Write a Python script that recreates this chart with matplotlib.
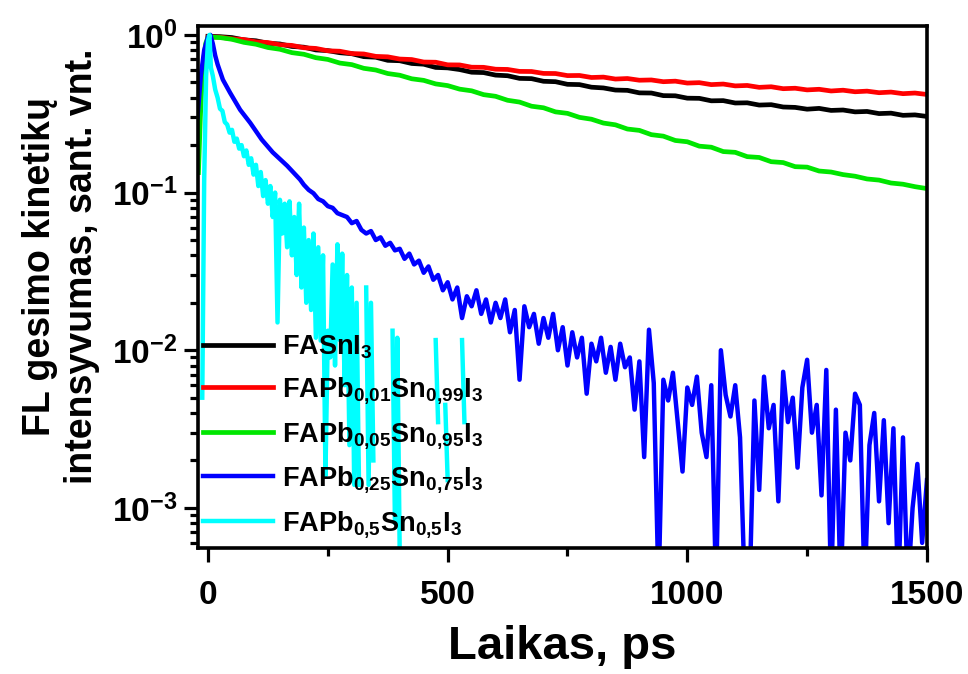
import numpy as np
import matplotlib.pyplot as plt

plt.rcParams['font.family'] = ['Liberation Sans', 'DejaVu Sans']
plt.rcParams['font.weight'] = 'bold'
plt.rcParams['mathtext.default'] = 'regular'

# --- data (time in ps, normalised PL intensity) ---
t_slow = np.arange(0, 1501, 25)

black = [0.98, 0.975, 0.962, 0.930, 0.918, 0.885, 0.876, 0.845, 0.836, 0.803,
         0.795, 0.771, 0.760, 0.728, 0.722, 0.690, 0.686, 0.659, 0.652, 0.622,
         0.618, 0.603, 0.580, 0.577, 0.556, 0.551, 0.530, 0.528, 0.508, 0.505,
         0.486, 0.484, 0.466, 0.461, 0.447, 0.445, 0.429, 0.428, 0.412, 0.411,
         0.397, 0.396, 0.382, 0.383, 0.370, 0.371, 0.359, 0.361, 0.349, 0.347,
         0.338, 0.342, 0.332, 0.334, 0.325, 0.327, 0.317, 0.319, 0.309, 0.311,
         0.304]

red = [0.97, 0.968, 0.945, 0.935, 0.904, 0.895, 0.866, 0.858, 0.829, 0.821,
       0.793, 0.788, 0.762, 0.757, 0.731, 0.726, 0.703, 0.698, 0.673, 0.671,
       0.646, 0.645, 0.624, 0.623, 0.606, 0.604, 0.587, 0.586, 0.570, 0.569,
       0.552, 0.553, 0.537, 0.540, 0.525, 0.529, 0.516, 0.518, 0.505, 0.509,
       0.495, 0.498, 0.484, 0.488, 0.475, 0.478, 0.465, 0.469, 0.456, 0.459,
       0.448, 0.452, 0.441, 0.446, 0.436, 0.440, 0.430, 0.434, 0.424, 0.428,
       0.419]

t_green = np.r_[[-20, -16, -11, -5], t_slow]
green = [0.134, 0.30, 0.62, 0.88,
         0.97, 0.962, 0.938, 0.897, 0.873, 0.832, 0.811, 0.772, 0.754, 0.717,
         0.699, 0.663, 0.648, 0.614, 0.599, 0.569, 0.555, 0.527, 0.515, 0.489,
         0.477, 0.453, 0.442, 0.418, 0.408, 0.385, 0.375, 0.353, 0.345, 0.325,
         0.318, 0.300, 0.292, 0.276, 0.269, 0.253, 0.248, 0.233, 0.228, 0.214,
         0.210, 0.197, 0.194, 0.182, 0.180, 0.169, 0.167, 0.157, 0.155, 0.146,
         0.145, 0.137, 0.135, 0.130, 0.127, 0.122, 0.120, 0.115, 0.113, 0.109,
         0.106]

t_blue = np.r_[[-22, -15, -8, 0, 5, 10, 15, 20, 31, 46, 67, 88, 112, 135, 165, 192],
               np.arange(200, 1501, 10)]
blue = [0.30, 0.55, 0.80, 0.97, 1.0, 0.88, 0.74, 0.65, 0.52, 0.43, 0.335, 0.277,
        0.217, 0.18, 0.148, 0.121,
        0.112, 0.104, 0.099, 0.091, 0.088, 0.082, 0.080, 0.074, 0.072, 0.070,
        0.064, 0.066, 0.058, 0.055, 0.057, 0.050, 0.052, 0.046, 0.048, 0.043,
        0.044, 0.038, 0.041, 0.035, 0.037, 0.031, 0.034, 0.028, 0.030, 0.024,
        0.027, 0.021, 0.025, 0.016, 0.022, 0.019, 0.024, 0.017, 0.021, 0.015,
        0.020, 0.016, 0.021, 0.013, 0.018, 0.0065, 0.019, 0.014, 0.017, 0.011,
        0.016, 0.012, 0.017, 0.010, 0.014, 0.008, 0.013, 0.009, 0.012, 0.0053,
        0.011, 0.0085, 0.012, 0.0072, 0.0105, 0.0065, 0.011, 0.0078, 0.009, 0.0042,
        0.0085, 0.0021, 0.0135, 0.0062, 0.0003, 0.0065, 0.0048, 0.0072, 0.0035, 0.0017,
        0.0058, 0.0045, 0.0068, 0.0030, 0.0021, 0.0060, 0.0003, 0.0100, 0.0052, 0.0038,
        0.0060, 0.0028, 0.0003, 0.0003, 0.0048, 0.0013, 0.0068, 0.0032, 0.0045, 0.0011,
        0.0073, 0.0035, 0.0050, 0.0018, 0.0058, 0.0087, 0.0030, 0.0045, 0.0012, 0.0075,
        0.0003, 0.0042, 0.0003, 0.0030, 0.0020, 0.0053, 0.0045, 0.0003, 0.0025, 0.0040,
        0.0011, 0.0036, 0.0008, 0.0032, 0.0003, 0.0028, 0.0003, 0.0010, 0.0019, 0.0006,
        0.0015]

nan = np.nan
t_cyan = np.r_[[-12, -8, -4, 0, 3, 6], np.arange(10, 541, 5)]
cyan = [0.005, 0.12, 0.55, 0.92, 1.0, 0.62,
        0.55, 0.45, 0.40, 0.34, 0.33, 0.28, 0.27, 0.24, 0.25, 0.21,
        0.22, 0.19, 0.20, 0.17, 0.185, 0.15, 0.165, 0.13, 0.15, 0.11,
        0.135, 0.095, 0.12, 0.085, 0.11, 0.07, 0.10, 0.015, 0.09, 0.055,
        0.085, 0.045, 0.088, 0.04, 0.07, 0.03, 0.085, 0.025, 0.06, 0.02,
        0.05, 0.018, 0.055, 0.012, 0.045, 0.0115, 0.04, 0.0016, 0.0133, 0.009,
        0.035, 0.008, 0.047, 0.0116, 0.041, 0.006, 0.03, 0.0025, 0.025, 0.0014,
        0.02, 0.0014, nan, nan, 0.025, 0.0014, 0.02, 0.002, nan, nan,
        nan, nan, nan, nan, nan, 0.0133, 0.0008, 0.012, 0.0005, nan,
        nan, nan, nan, nan, nan, nan, nan, nan, nan, nan,
        nan, nan, nan, 0.0116, 0.0035, nan, nan, 0.0045, 0.0015, nan,
        nan, nan, nan, nan, 0.0116, 0.0035, nan]

labels = ['FASnI$_3$',
          'FAPb$_{0{,}01}$Sn$_{0{,}99}$I$_3$',
          'FAPb$_{0{,}05}$Sn$_{0{,}95}$I$_3$',
          'FAPb$_{0{,}25}$Sn$_{0{,}75}$I$_3$',
          'FAPb$_{0{,}5}$Sn$_{0{,}5}$I$_3$']
colors = ['black', '#ff0000', '#00e600', '#0000ff', '#00ffff']

# --- plotting ---
fig = plt.figure(figsize=(9.68, 6.74), dpi=100)
ax = fig.add_axes([0.2045, 0.187, 0.7531, 0.7745])

ax.plot(t_slow, black, color=colors[0], lw=3.4, label=labels[0])
ax.plot(t_slow, red, color=colors[1], lw=3.4, label=labels[1])
ax.plot(t_green, green, color=colors[2], lw=3.4, label=labels[2])
ax.plot(t_blue, blue, color=colors[3], lw=3.2, label=labels[3])
ax.plot(t_cyan, cyan, color=colors[4], lw=3.2, label=labels[4])

ax.set_yscale('log')
ax.set_xlim(-21, 1500)
ax.set_ylim(5.57e-4, 1.14)
ax.set_xticks([0, 500, 1000, 1500])
ax.set_xticks([250, 750, 1250], minor=True)

for s in ax.spines.values():
    s.set_linewidth(2.6)
ax.tick_params(which='both', direction='out', width=2.3, labelsize=24,
               top=False, right=False)
ax.tick_params(which='major', length=10, pad=5)
ax.tick_params(which='minor', length=6)
ax.tick_params(axis='x', which='major', pad=13)

ax.set_xlabel('Laikas, ps', fontsize=34, fontweight='bold', labelpad=10)
ax.set_ylabel('FL gesimo kinetikų\nintensyvumas, sant. vnt.', fontsize=27,
              fontweight='bold', linespacing=1.2)
ax.yaxis.set_label_coords(-0.135, 0.54)

ax.legend(loc='upper left', bbox_to_anchor=(0.007, 0.41), frameon=False,
          fontsize=19.5, handlelength=2.6, handletextpad=0.3,
          labelspacing=0.5, borderaxespad=0.0, borderpad=0.0)

fig.savefig('out.png', dpi=100)
